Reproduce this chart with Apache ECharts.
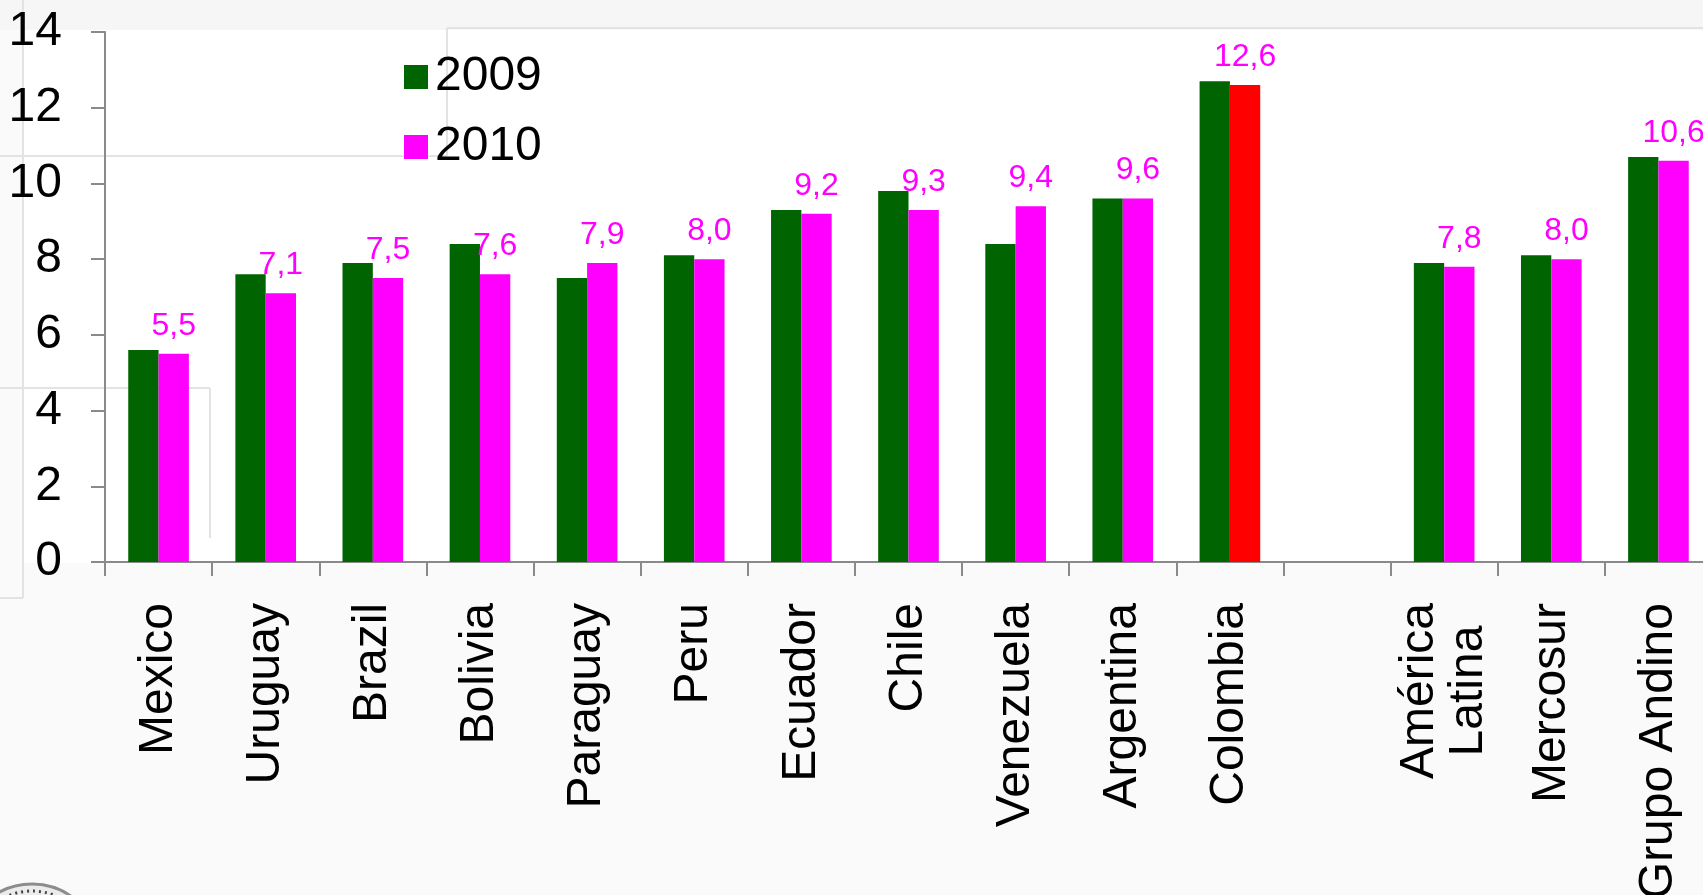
<!DOCTYPE html>
<html>
<head>
<meta charset="utf-8">
<script src="https://cdn.jsdelivr.net/npm/echarts@6/dist/echarts.min.js"></script>
<style>
  html, body { margin: 0; padding: 0; background: #fafafa; }
  #chart { width: 1703px; height: 895px; }
</style>
</head>
<body>
<div id="chart"></div>
<script>
// Categories (the empty entry separates countries from regional groups)
const categories = ['Mexico', 'Uruguay', 'Brazil', 'Bolivia', 'Paraguay', 'Peru', 'Ecuador',
  'Chile', 'Venezuela', 'Argentina', 'Colombia', '', 'América\nLatina', 'Mercosur', 'Grupo Andino'];
const values2009 = [5.6, 7.6, 7.9, 8.4, 7.5, 8.1, 9.3, 9.8, 8.4, 9.6, 12.7, null, 7.9, 8.1, 10.7];
const values2010 = [5.5, 7.1, 7.5, 7.6, 7.9, 8.0, 9.2, 9.3, 9.4, 9.6, 12.6, null, 7.8, 8.0, 10.6];
const seriesNames = ['2009', '2010'];
const yTicks = { min: 0, max: 14, interval: 2 };
const highlighted = 'Colombia';

const GREEN = '#006400';
const MAGENTA = '#ff00ff';
const RED = '#ff0000';
const FONT = '"Liberation Sans", Arial, Helvetica, sans-serif';

const data2010 = values2010.map((v, i) =>
  categories[i] === highlighted ? { value: v, itemStyle: { color: RED } } : v);

const chart = echarts.init(document.getElementById('chart'), null, { renderer: 'canvas' });

// faint slide-template frame lines behind the chart
const frame = '#e3e3e3';
const line = (x1, y1, x2, y2) => ({
  type: 'line', z: -5, silent: true,
  shape: { x1, y1, x2, y2 },
  style: { stroke: frame, lineWidth: 2 }
});

chart.setOption({
  backgroundColor: '#fafafa',
  textStyle: { fontFamily: FONT },
  animation: false,
  graphic: [
    { type: 'rect', z: -6, silent: true, shape: { x: 0, y: 0, width: 1703, height: 30 }, style: { fill: '#f6f6f6' } },
    { type: 'rect', z: -6, silent: true, shape: { x: 24, y: 30, width: 1679, height: 533 }, style: { fill: '#ffffff' } },
    line(23, 0, 23, 598), line(0, 598, 23, 598),
    line(0, 156, 447, 156), line(447, 28, 447, 156), line(447, 28, 1703, 28),
    line(0, 388, 210, 388), line(210, 388, 210, 538),
    // seal in the lower-left corner
    { type: 'circle', z: -4, silent: true, shape: { cx: 32, cy: 952, r: 68 },
      style: { fill: '#ececec', stroke: '#8c8c8c', lineWidth: 3 } },
    { type: 'circle', z: -4, silent: true, shape: { cx: 32, cy: 952, r: 61 },
      style: { fill: 'none', stroke: '#444', lineWidth: 3, lineDash: [2, 4] } }
  ],
  legend: {
    data: seriesNames,
    orient: 'vertical',
    left: 399,
    top: 48,
    itemWidth: 24,
    itemHeight: 24,
    itemGap: 22,
    icon: 'rect',
    textStyle: { fontSize: 48, color: '#000', fontFamily: FONT, padding: [0, 0, 0, 2] }
  },
  grid: {
    left: 105,
    top: 32,
    width: 1607,
    height: 530,
    containLabel: false,
    outerBoundsMode: 'none'
  },
  xAxis: {
    type: 'category',
    data: categories,
    axisLine: { show: true, lineStyle: { color: '#8a8a8a', width: 2 } },
    axisTick: { show: true, interval: 0, length: 14, lineStyle: { color: '#8a8a8a', width: 2 } },
    axisLabel: {
      interval: 0,
      rotate: 90,
      margin: 41,
      color: '#000',
      fontSize: 48,
      fontFamily: FONT,
      formatter: v => v.split('\n').map(s => '{c|' + s + '}').join('\n'),
      rich: { c: { align: 'center', fontSize: 48, fontFamily: FONT, color: '#000', lineHeight: 49 } }
    }
  },
  yAxis: {
    type: 'value',
    min: yTicks.min,
    max: yTicks.max,
    interval: yTicks.interval,
    splitLine: { show: false },
    axisLine: { show: true, lineStyle: { color: '#8a8a8a', width: 2 } },
    axisTick: { show: true, length: 14, lineStyle: { color: '#8a8a8a', width: 2 } },
    axisLabel: { margin: 43, color: '#000', fontSize: 48, fontFamily: FONT }
  },
  series: [
    {
      name: seriesNames[0],
      type: 'bar',
      data: values2009,
      barWidth: '28.3%',
      barGap: '0%',
      itemStyle: { color: GREEN }
    },
    {
      name: seriesNames[1],
      type: 'bar',
      data: data2010,
      barWidth: '28.3%',
      barGap: '0%',
      itemStyle: { color: MAGENTA },
      label: {
        show: true,
        position: 'top',
        distance: 12,
        color: MAGENTA,
        fontSize: 32,
        fontFamily: FONT,
        formatter: p => p.value == null ? '' : Number(p.value).toFixed(1).replace('.', ',')
      }
    }
  ]
});
</script>
</body>
</html>
